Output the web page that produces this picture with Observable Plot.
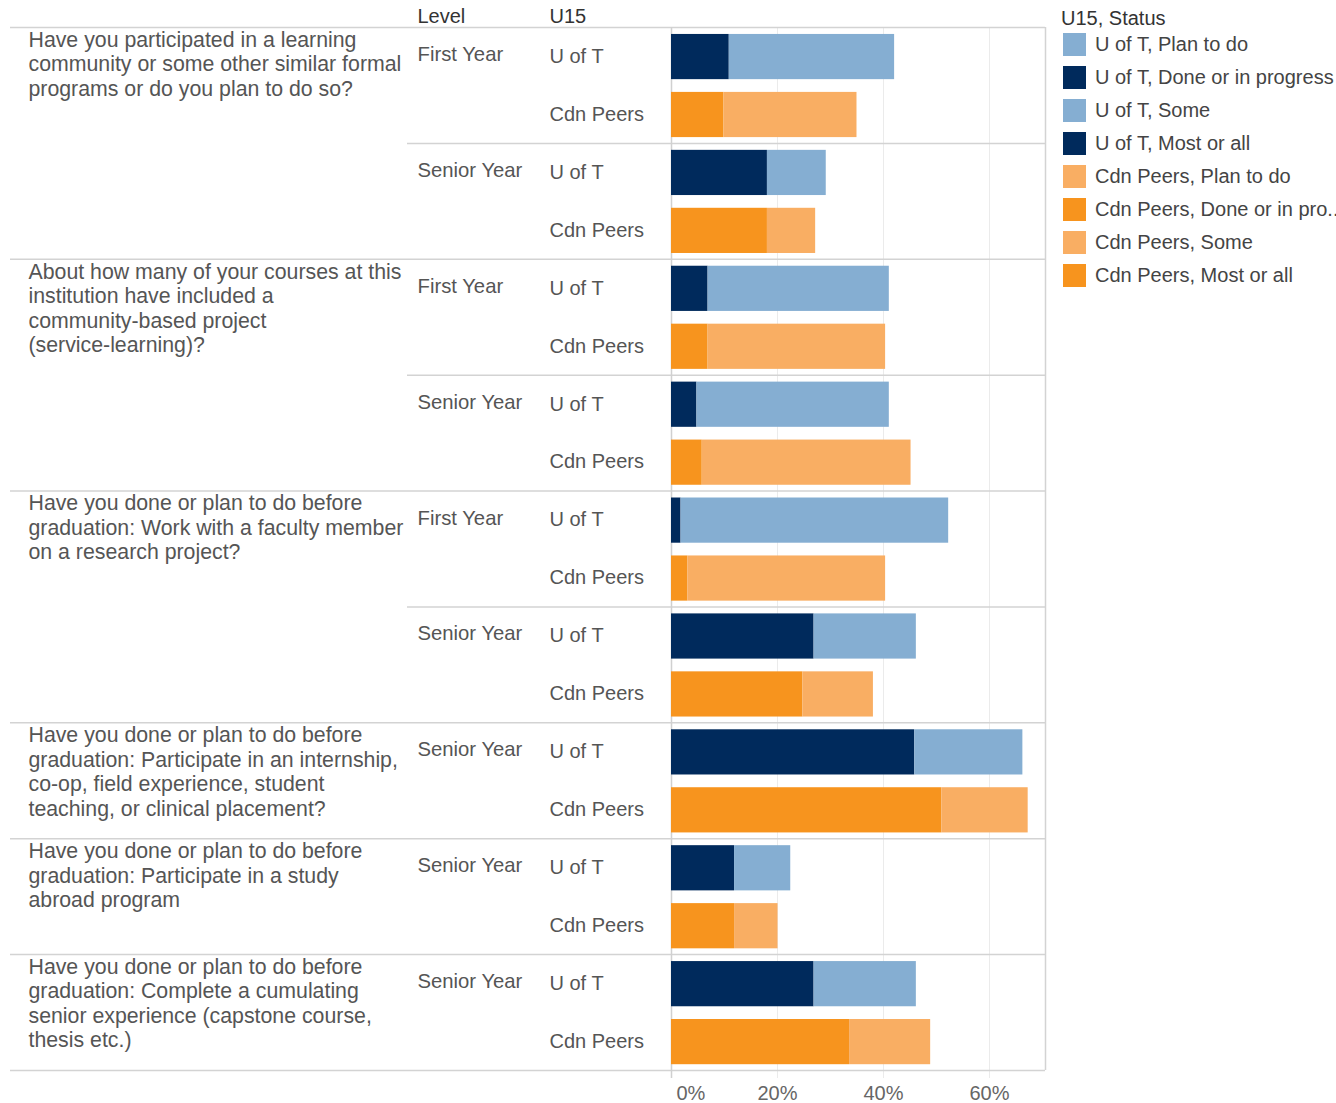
<!DOCTYPE html>
<html>
<head>
<meta charset="utf-8">
<script src="https://cdn.jsdelivr.net/npm/d3@7"></script>
<script src="https://cdn.jsdelivr.net/npm/@observablehq/plot@0.6"></script>
<style>
  body { margin: 0; background: #fff; font-family: "Liberation Sans", Arial, sans-serif; }
  #wrap { position: relative; width: 1336px; height: 1103px; }
  #legend { position: absolute; left: 1063px; top: 6px; }
  #legend .ltitle { font-size: 20px; color: #333; height: 24px; line-height: 24px; margin-left: -2px; margin-bottom: -2px; }
  #legend .lg-swatch { height: 33px; padding-bottom: 0 !important; }
  #legend .lg-swatch svg { margin-right: 9px !important; }
</style>
</head>
<body>
<div id="wrap">
  <div id="chart"></div>
  <div id="legend"><div class="ltitle">U15, Status</div></div>
</div>
<script>
// ---------------- data ----------------
const questions = [
  "Have you participated in a learning\ncommunity or some other similar formal\nprograms or do you plan to do so?",
  "About how many of your courses at this\ninstitution have included a\ncommunity-based project\n(service-learning)?",
  "Have you done or plan to do before\ngraduation: Work with a faculty member\non a research project?",
  "Have you done or plan to do before\ngraduation: Participate in an internship,\nco-op, field experience, student\nteaching, or clinical placement?",
  "Have you done or plan to do before\ngraduation: Participate in a study\nabroad program",
  "Have you done or plan to do before\ngraduation: Complete a cumulating\nsenior experience (capstone course,\nthesis etc.)"
];
const questionStartRow = [0, 4, 8, 12, 14, 16];
const primaryStatus   = ["Done or in progress", "Most or all", "Done or in progress", "Done or in progress", "Done or in progress", "Done or in progress"];
const secondaryStatus = ["Plan to do", "Some", "Plan to do", "Plan to do", "Plan to do", "Plan to do"];

const levelLabels   = ["First Year", "Senior Year", "First Year", "Senior Year", "First Year", "Senior Year", "Senior Year", "Senior Year", "Senior Year"];
const levelStartRow = [0, 2, 4, 6, 8, 10, 12, 14, 16];

const rowQuestion = [0,0,0,0, 1,1,1,1, 2,2,2,2, 3,3, 4,4, 5,5];
const rowU15 = ["U of T","Cdn Peers","U of T","Cdn Peers","U of T","Cdn Peers","U of T","Cdn Peers","U of T","Cdn Peers",
                "U of T","Cdn Peers","U of T","Cdn Peers","U of T","Cdn Peers","U of T","Cdn Peers"];
// share (%) "Done or in progress" / "Most or all"
const primaryValues   = [10.9, 9.9, 18.1, 18.1, 6.9, 6.9, 4.8, 5.8, 1.8, 3.1, 26.9, 24.8, 45.9, 51.0, 11.9, 11.9, 26.9, 33.6];
// share (%) "Plan to do" / "Some"
const secondaryValues = [31.2, 25.1, 11.1, 9.1, 34.2, 33.5, 36.3, 39.4, 50.5, 37.3, 19.3, 13.3, 20.4, 16.3, 10.6, 8.2, 19.3, 15.3];

const legendKeys = [
  "U of T, Plan to do", "U of T, Done or in progress", "U of T, Some", "U of T, Most or all",
  "Cdn Peers, Plan to do", "Cdn Peers, Done or in progress", "Cdn Peers, Some", "Cdn Peers, Most or all"
];
const legendLabels = [
  "U of T, Plan to do", "U of T, Done or in progress", "U of T, Some", "U of T, Most or all",
  "Cdn Peers, Plan to do", "Cdn Peers, Done or in pro..", "Cdn Peers, Some", "Cdn Peers, Most or all"
];
const legendColors = ["#85aed2", "#002a5c", "#85aed2", "#002a5c", "#f9ae63", "#f7941e", "#f9ae63", "#f7941e"];

const tickValues = [0, 20, 40, 60];
const headers = ["Level", "U15"];
const fullRuleRows = [0, 4, 8, 12, 14, 16, 18];
const levelRuleRows = [2, 6, 10];

// ---------------- layout ----------------
const W = 1336, H = 1103;
const mLeft = 671, mRight = 291, mTop = 27, mBottom = 33;
const xMax = 70.57;
const colQuestion = 28, colLevel = 417, colU15 = 549, tableLeft = 10;

// ---------------- derived tables ----------------
const rows = rowU15.map((u, i) => ({row: i, u15: u, q: rowQuestion[i]}));
const bars = [];
rows.forEach((r) => {
  bars.push({row: r.row, value: primaryValues[r.row], key: `${r.u15}, ${primaryStatus[r.q]}`});
  bars.push({row: r.row, value: secondaryValues[r.row], key: `${r.u15}, ${secondaryStatus[r.q]}`});
});
const qData = questions.map((t, i) => ({text: t, row: questionStartRow[i]}));
const lData = levelLabels.map((t, i) => ({text: t, row: levelStartRow[i]}));

const font = "Liberation Sans, Arial, sans-serif";

const chart = Plot.plot({
  width: W, height: H,
  marginLeft: mLeft, marginRight: mRight, marginTop: mTop, marginBottom: mBottom,
  style: {fontFamily: font, background: "#fff", overflow: "visible"},
  x: {domain: [0, xMax], axis: null},
  y: {domain: [0, 18], reverse: true, axis: null},
  color: {domain: legendKeys, range: legendColors},
  marks: [
    Plot.ruleX(tickValues.filter(d => d > 0), {x: d => d, stroke: "#ebebeb", strokeWidth: 1, insetBottom: -8}),
    Plot.ruleY(fullRuleRows, {y: d => d, stroke: "#d3d3d3", strokeWidth: 1.5, insetLeft: -(mLeft - tableLeft)}),
    Plot.ruleY(levelRuleRows, {y: d => d, stroke: "#d3d3d3", strokeWidth: 1.5, insetLeft: -(mLeft - colLevel + 10)}),
    Plot.ruleX([0], {x: d => d, stroke: "#d0d0d0", strokeWidth: 1.5, insetBottom: -8}),
    Plot.ruleX([xMax], {x: d => d, stroke: "#d3d3d3", strokeWidth: 1.5}),
    Plot.rectX(bars, {x: "value", y1: d => d.row + 0.12, y2: d => d.row + 0.9, fill: "key"}),
    // table text
    Plot.text(headers, {text: d => d, y: 0, frameAnchor: "left", textAnchor: "start", lineAnchor: "bottom",
      fontSize: 20, fill: "#333", dy: -3}),
    Plot.text(qData, {text: "text", y: "row", frameAnchor: "left", textAnchor: "start", lineAnchor: "top",
      dx: colQuestion - mLeft, dy: 2, fontSize: 21.3, lineHeight: 1.15, fill: "#555"}),
    Plot.text(lData, {text: "text", y: d => d.row + 0.5, frameAnchor: "left", textAnchor: "start",
      dx: colLevel - mLeft, dy: -2, fontSize: 20.3, fill: "#555"}),
    Plot.text(rows, {text: "u15", y: d => d.row + 0.5, frameAnchor: "left", textAnchor: "start",
      dx: colU15 - mLeft, dy: 0, fontSize: 20, fill: "#555"}),
    // x tick labels
    Plot.text(tickValues.filter(d => d === 0), {x: d => d, text: d => d + "%", frameAnchor: "bottom",
      textAnchor: "start", dx: 5, dy: 29, fontSize: 20, fill: "#666"}),
    Plot.text(tickValues.filter(d => d > 0), {x: d => d, text: d => d + "%", frameAnchor: "bottom",
      dy: 29, fontSize: 20, fill: "#666"})
  ]
});
document.getElementById("chart").appendChild(chart);

// header texts: place them in their table columns
d3.select(chart).selectAll("text")
  .filter(function () { return headers.includes(this.textContent); })
  .each(function () {
    const col = this.textContent === "Level" ? colLevel : colU15;
    d3.select(this).attr("transform", null).attr("x", col).attr("y", mTop - 2);
  });

const legend = chart.legend("color", {
  columns: 1, swatchSize: 23, className: "lg",
  tickFormat: d => legendLabels[legendKeys.indexOf(d)],
  style: {fontSize: "20px", fontFamily: font, color: "#444"}
});
document.getElementById("legend").appendChild(legend);
</script>
</body>
</html>
